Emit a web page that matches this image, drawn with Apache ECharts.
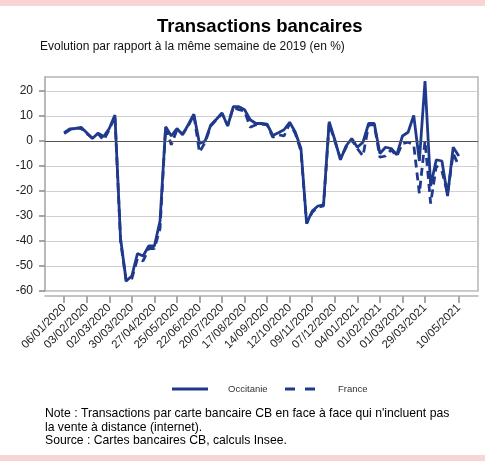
<!DOCTYPE html>
<html>
<head>
<meta charset="utf-8">
<script src="https://cdn.jsdelivr.net/npm/echarts@6/dist/echarts.min.js"></script>
<style>
html,body{margin:0;padding:0;background:#fff;}
#main{width:485px;height:461px;}
</style>
</head>
<body>
<div id="main"></div>
<script>
// semaines (index 0 = 06/01/2020), une valeur par semaine
var tickWeeks = [0, 4, 8, 12, 16, 20, 24, 28, 32, 36, 40, 44, 48, 52, 56, 60, 64, 70];
var tickLabels = ['06/01/2020', '03/02/2020', '02/03/2020', '30/03/2020', '27/04/2020', '25/05/2020',
  '22/06/2020', '20/07/2020', '17/08/2020', '14/09/2020', '12/10/2020', '09/11/2020', '07/12/2020',
  '04/01/2021', '01/02/2021', '01/03/2021', '29/03/2021', '10/05/2021'];
var yTicks = [-60, -50, -40, -30, -20, -10, 0, 10, 20];

var occitanie = [3.3, 4.8, 5.0, 5.5, 3.3, 1.0, 3.1, 1.8, 5.0, 10.4,
  -39, -56, -54, -45, -46, -42, -42, -32, 5.7, 2.0,
  5.0, 2.5, 6.5, 10.7, -1.0, 0.0, 6.4, 8.7, 11.2, 6.0,
  13.7, 13.7, 12.5, 8.5, 7.0, 7.0, 6.7, 2.2, 3.3, 4.5,
  7.5, 3.5, -3.0, -33, -28, -26, -25.5, 7.7, 0.5, -7.5,
  -2.0, 1.0, -2.5, -0.5, 7.0, 7.0, -5.0, -2.5, -3.0, -5.5,
  2.0, 3.5, 10.2, -8.0, 24.0, -18.0, -7.5, -8.0, -22.0, -2.5,
  -6.0];

var france = [3.0, 4.5, 5.2, 5.0, 3.0, 1.2, 3.0, 0.3, 4.5, 10.0,
  -40, -56, -55, -47, -48, -43, -43, -35, 5.5, -1.5,
  4.5, 2.8, 6.0, 10.5, -4.5, -0.5, 6.0, 8.5, 11.0, 6.2,
  13.5, 12.5, 12.0, 5.5, 6.5, 6.8, 6.5, 1.5, 2.5, 2.0,
  7.0, 3.0, -4.0, -33, -28.5, -26.5, -26, 7.0, 0.0, -7.0,
  -2.5, 0.5, -3.0, -6.0, 6.5, 6.5, -6.5, -6.0, -3.5, -6.0,
  -1.0, -0.5, -1.5, -21, 0.0, -25, -10, -12, -21, -5.0,
  -10];

function toPairs(arr) {
  return arr.map(function (v, i) { return [i, v]; });
}

var myChart = echarts.init(document.getElementById('main'));
var blue = '#1f3a8c';

myChart.setOption({
  animation: false,
  backgroundColor: '#fff',
  textStyle: { fontFamily: '"Liberation Sans", Arial, sans-serif' },
  title: [
    {
      text: 'Transactions bancaires',
      left: 157, top: 17, padding: 0,
      textStyle: { fontSize: 18.5, fontWeight: 'bold', color: '#000' }
    },
    {
      text: 'Evolution par rapport à la même semaine de 2019 (en %)',
      left: 40, top: 41, padding: 0,
      textStyle: { fontSize: 12, fontWeight: 'normal', color: '#111' }
    },
    {
      text: "Note : Transactions par carte bancaire CB en face à face qui n'incluent pas\nla vente à distance (internet).\nSource : Cartes bancaires CB, calculs Insee.",
      left: 45, top: 407, padding: 0,
      textStyle: { fontSize: 12.2, fontWeight: 'normal', color: '#000', lineHeight: 13.5 }
    }
  ],
  // bandes roses haut / bas
  graphic: [
    { type: 'rect', left: 0, top: 0, shape: { width: 485, height: 6 }, style: { fill: '#f9d4d4' } },
    { type: 'rect', left: 0, top: 455, shape: { width: 485, height: 6 }, style: { fill: '#f9d4d4' } }
  ],
  // deux légendes pour placer chaque élément comme sur l'original
  legend: [
    {
      data: [{ name: 'Occitanie', icon: 'path://M0,0h36v3h-36z' }],
      left: 172, top: 384, padding: 0,
      itemWidth: 36, itemHeight: 3, symbolKeepAspect: false,
      textStyle: { fontSize: 9.5, color: '#333', padding: [0, 0, 0, 15] }
    },
    {
      data: [{ name: 'France', icon: 'path://M0,0h10v3h-10zM20,0h10v3h-10z' }],
      left: 285, top: 384, padding: 0,
      itemWidth: 30, itemHeight: 3, symbolKeepAspect: false,
      textStyle: { fontSize: 9.5, color: '#333', padding: [0, 0, 0, 18] }
    }
  ],
  grid: {
    left: 45, right: 7, top: 77, bottom: 170,
    show: true, borderColor: '#b5b5b5', borderWidth: 1.5, backgroundColor: 'transparent'
  },
  xAxis: {
    type: 'value',
    min: -3.4, max: 73.4,
    offset: 5,
    axisLine: { show: true, onZero: false, lineStyle: { color: '#b0b0b0', width: 1.5 } },
    axisTick: { show: true, customValues: tickWeeks, length: 7, lineStyle: { color: '#aaa', width: 2 } },
    axisLabel: {
      customValues: tickWeeks,
      rotate: 45, fontSize: 11.5, color: '#222', margin: 10,
      formatter: function (v) {
        var k = tickWeeks.indexOf(Math.round(v));
        return k >= 0 ? tickLabels[k] : '';
      }
    },
    splitLine: { show: false }
  },
  yAxis: {
    type: 'value',
    min: -60, max: 25.6, interval: 10,
    axisLine: { show: true, onZero: false, lineStyle: { color: '#b5b5b5', width: 1.5 } },
    axisTick: { show: true, inside: false, customValues: yTicks, length: 6, lineStyle: { color: '#888', width: 1.5 } },
    axisLabel: { customValues: yTicks, fontSize: 12, color: '#222', margin: 12 },
    splitLine: { lineStyle: { color: '#cfcfcf', width: 1 } }
  },
  series: [
    {
      name: 'Occitanie', type: 'line', symbol: 'none',
      data: toPairs(occitanie),
      lineStyle: { color: blue, width: 2.8 },
      itemStyle: { color: blue },
      markLine: {
        silent: true, symbol: 'none', label: { show: false },
        lineStyle: { color: '#555', width: 1, type: 'solid' },
        data: [{ yAxis: 0 }]
      },
      z: 3
    },
    {
      name: 'France', type: 'line', symbol: 'none',
      data: toPairs(france),
      lineStyle: { color: blue, width: 2.8, type: [8, 5] },
      itemStyle: { color: blue },
      z: 2
    }
  ]
});
</script>
</body>
</html>
